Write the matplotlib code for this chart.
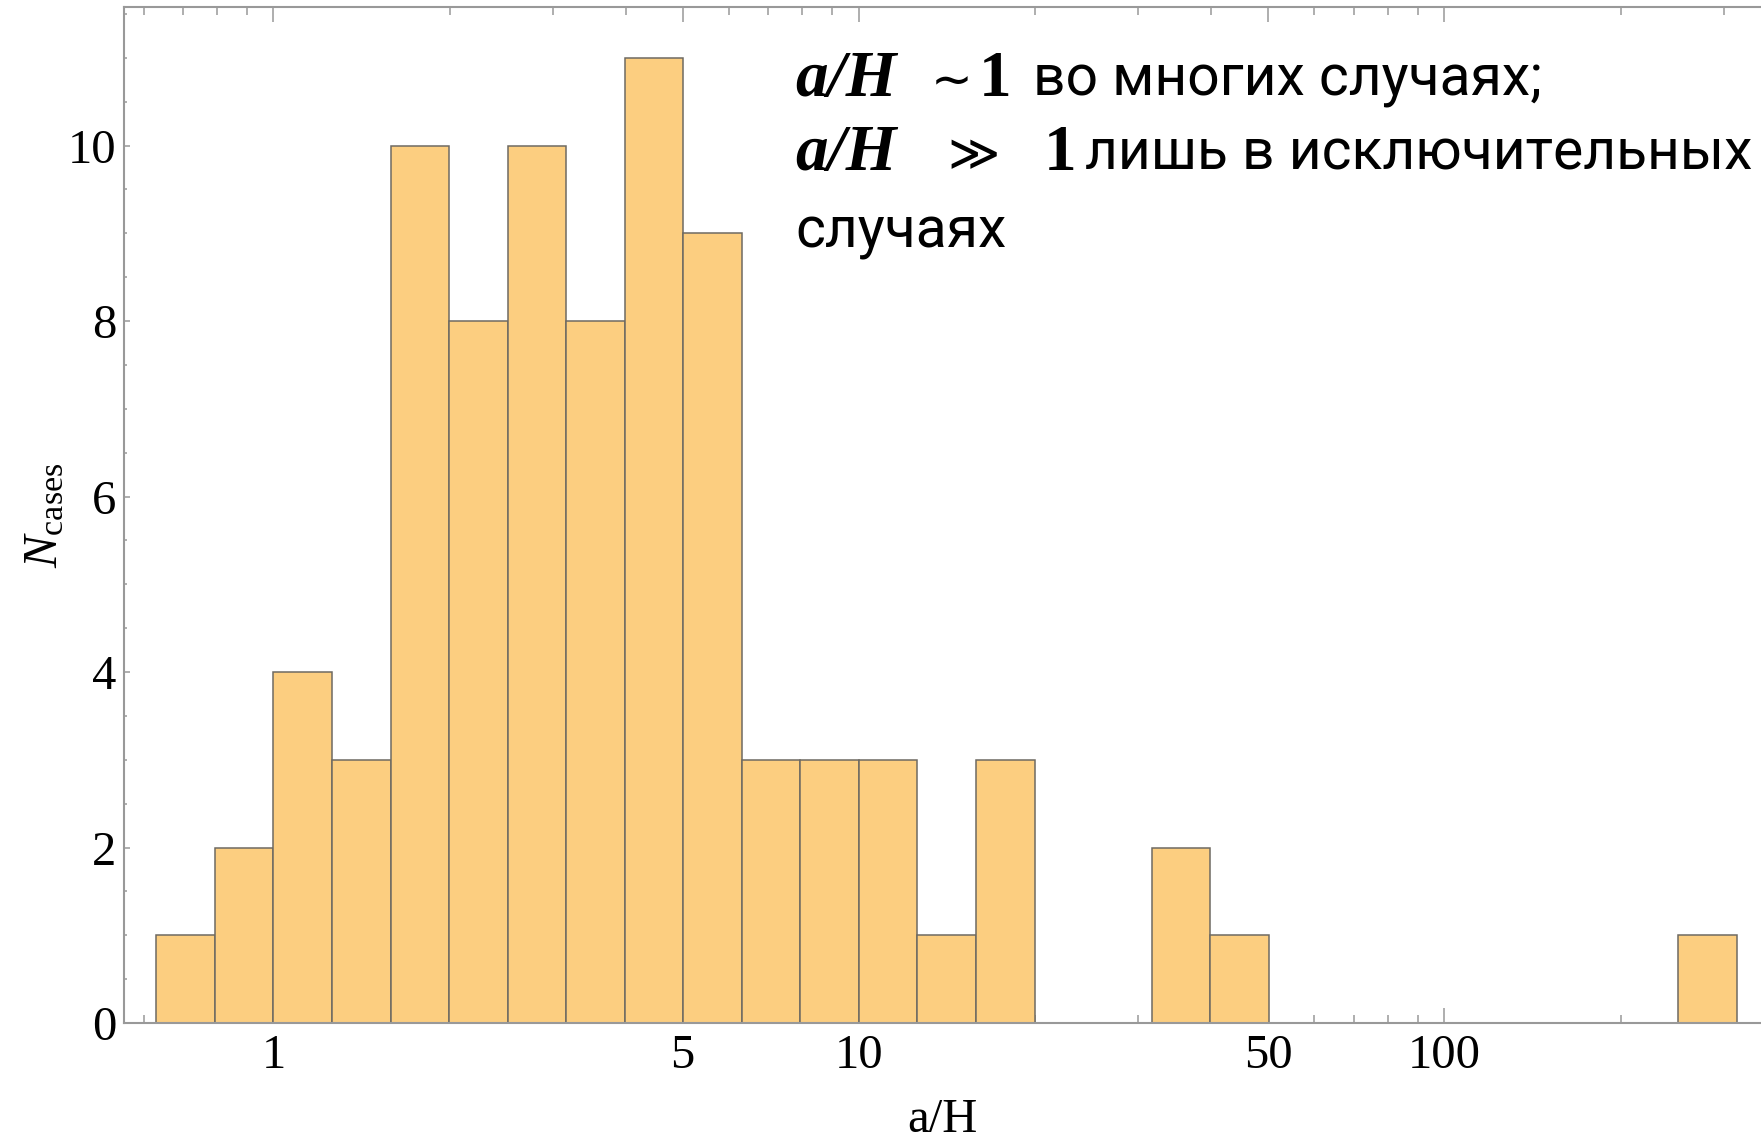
import numpy as np
import matplotlib
matplotlib.use("Agg")
import matplotlib.pyplot as plt
from matplotlib.ticker import FixedLocator, FixedFormatter, NullFormatter
from matplotlib.transforms import offset_copy

# ---- data -------------------------------------------------------------
# log10 of the bin edges (bins are 0.1 dex wide)
log_edges = [-0.2, -0.1, 0.0, 0.1, 0.2, 0.3, 0.4, 0.5, 0.6, 0.7, 0.8, 0.9,
             1.0, 1.1, 1.2, 1.3, 1.4, 1.5, 1.6, 1.7, 1.8, 1.9, 2.0, 2.1,
             2.2, 2.3, 2.4, 2.5]
counts = [1, 2, 4, 3, 10, 8, 10, 8, 11, 9, 3, 3, 3, 1, 3, 0, 0, 2, 1,
          0, 0, 0, 0, 0, 0, 0, 1]

x_major = [1, 5, 10, 50, 100]
x_major_labels = ["1", "5", "10", "50", "100"]
x_minor = [0.6, 0.7, 0.8, 0.9, 2, 3, 4, 6, 7, 8, 9,
           20, 30, 40, 60, 70, 80, 90, 200, 300]
y_major = [0, 2, 4, 6, 8, 10]
y_minor = [0.5, 1, 1.5, 2.5, 3, 3.5, 4.5, 5, 5.5, 6.5, 7, 7.5,
           8.5, 9, 9.5, 10.5, 11, 11.5]

x_label = "a/H"
y_label = r"$N_{\mathrm{cases}}$"

# each piece: (text, style, horizontal start in pixels from the line start)
note_lines = [
    [("a/H", "math_it", 0), ("∼", "sym", 136), ("1", "math_bf", 184),
     ("во многих случаях;", "text", 238)],
    [("a/H", "math_it", 0), ("≫", "sym", 152), ("1", "math_bf", 249),
     ("лишь в исключительных", "text", 290)],
    [("случаях", "text", 0)],
]

# ---- style ------------------------------------------------------------
W, H, DPI = 1761, 1140, 100
bar_face = "#FCCE80"
bar_edge = "#6E6A62"
frame_col = "#999999"

plt.rcParams["mathtext.fontset"] = "custom"
plt.rcParams["mathtext.rm"] = "Liberation Serif"
plt.rcParams["mathtext.it"] = "Liberation Serif:italic"
plt.rcParams["mathtext.bf"] = "Liberation Serif:bold"

fig = plt.figure(figsize=(W / DPI, H / DPI), dpi=DPI)
ax = fig.add_axes([123.5 / W, 1 - 1023 / H, 1 - 123.5 / W, (1023 - 7) / H])

edges = 10.0 ** np.array(log_edges)
lefts = edges[:-1]
widths = np.diff(edges)
cnt = np.array(counts)
keep = cnt > 0
ax.bar(lefts[keep], cnt[keep], width=widths[keep], align="edge",
       color=bar_face, edgecolor=bar_edge, linewidth=1.1, zorder=2)

ax.set_xscale("log")
decade = 585.4
x0_log = -(273.5 - 123.5) / decade
x1_log = x0_log + (W - 123.5) / decade
ax.set_xlim(10 ** x0_log, 10 ** x1_log)
ax.set_ylim(0, 11.58)

ax.xaxis.set_major_locator(FixedLocator(x_major))
ax.xaxis.set_major_formatter(FixedFormatter(x_major_labels))
ax.xaxis.set_minor_locator(FixedLocator(x_minor))
ax.xaxis.set_minor_formatter(NullFormatter())
ax.yaxis.set_major_locator(FixedLocator(y_major))
ax.yaxis.set_minor_locator(FixedLocator(y_minor))
ax.yaxis.set_minor_formatter(NullFormatter())

for s in ["left", "bottom", "top"]:
    ax.spines[s].set_color(frame_col)
    ax.spines[s].set_linewidth(1.5)
    ax.spines[s].set_zorder(3)
ax.spines["right"].set_visible(False)

ax.tick_params(axis="x", which="major", direction="in", length=11,
               width=1.1, color=frame_col, top=True, pad=8,
               labelsize=35, labelfontfamily="Liberation Serif")
ax.tick_params(axis="x", which="minor", direction="in", length=6,
               width=1.1, color=frame_col, top=True)
ax.tick_params(axis="y", which="major", direction="in", length=4,
               width=1.1, color=frame_col, right=False, pad=5,
               labelsize=35, labelfontfamily="Liberation Serif")
ax.tick_params(axis="y", which="minor", direction="in", length=2.4,
               width=1.1, color=frame_col, right=False)
for t in ax.get_xticklines() + ax.get_yticklines():
    t.set_zorder(4)

ax.set_xlabel(x_label, fontsize=35, family="Liberation Serif")
ax.xaxis.label.set_verticalalignment("center")
ax.xaxis.set_label_coords(0.5, -(1120 - 1023) / (1023 - 7))
ax.set_ylabel(y_label, fontsize=35)
ax.yaxis.label.set_verticalalignment("center")
ax.yaxis.set_label_coords(-(123.5 - 43) / (W - 123.5), 0.5)

# ---- annotation -------------------------------------------------------
styles = {
    "math_it": dict(family=["Liberation Serif", "DejaVu Serif"],
                    weight="bold", style="italic", size=47),
    "math_bf": dict(family=["Liberation Serif", "DejaVu Serif"],
                    weight="bold", size=47),
    "sym": dict(family=["DejaVu Sans", "DejaVu Serif"], size=36),
    "text": dict(family=["Roboto", "DejaVu Sans"], size=41),
}

x_start = 795
baselines = [96, 170, 247]
for line, yb in zip(note_lines, baselines):
    for s, kind, dx in line:
        tr = offset_copy(fig.transFigure, fig=fig, x=x_start + dx, y=-yb,
                         units="dots")
        fig.text(0, 1, s, transform=tr, ha="left", va="baseline",
                 color="black", **styles[kind])

fig.savefig("out.png", dpi=DPI)
